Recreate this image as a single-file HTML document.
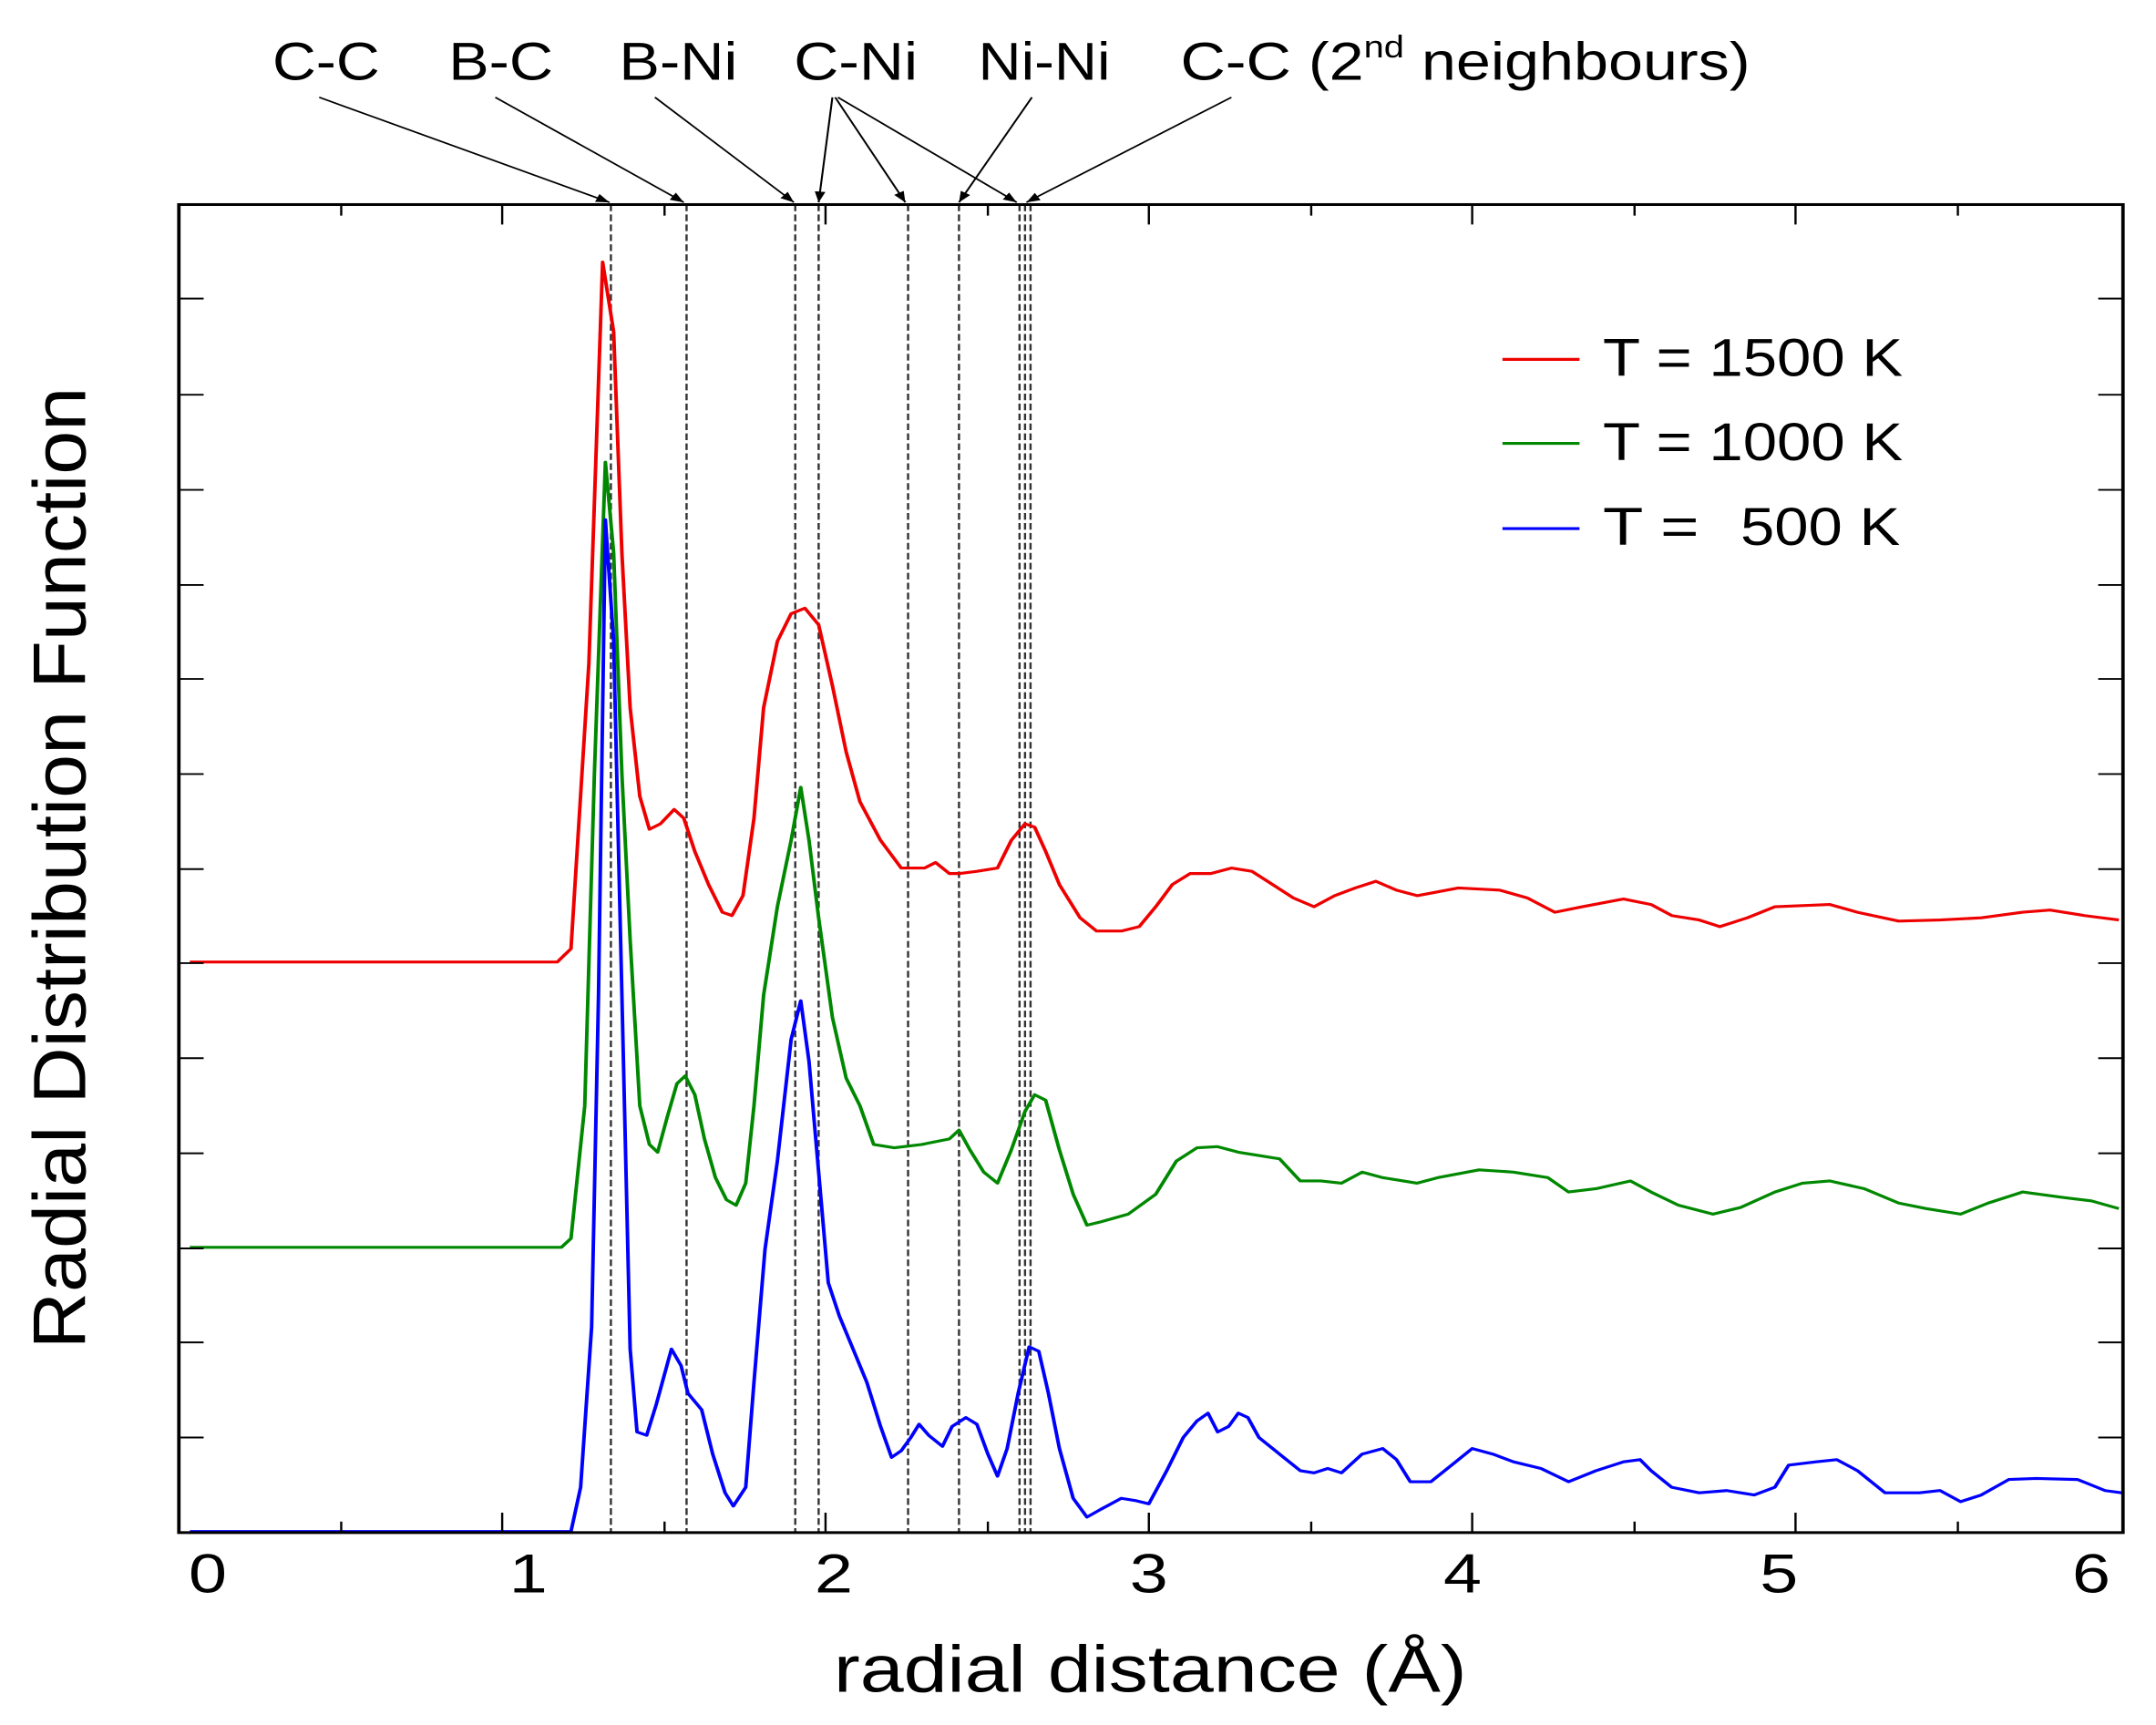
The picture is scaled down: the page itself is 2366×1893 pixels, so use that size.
<!DOCTYPE html>
<html><head><meta charset="utf-8"><style>html,body{margin:0;padding:0;background:#fff;overflow:hidden}svg{display:block}</style></head>
<body>
<svg width="2366" height="1893" viewBox="0 0 1567 1560" preserveAspectRatio="none" xmlns="http://www.w3.org/2000/svg" font-family="Liberation Sans, Arial, sans-serif">
<rect width="1567" height="1560" fill="#fff"/>
<defs><marker id="ar" viewBox="0 0 10 10" refX="10" refY="5" markerWidth="7" markerHeight="7" orient="auto"><path d="M0,1 L10,5 L0,9 z" fill="#000"/></marker></defs>
<g stroke="#333" stroke-width="1.6" stroke-dasharray="6,3">
<line x1="444" y1="185" x2="444" y2="1386"/><line x1="499" y1="185" x2="499" y2="1386"/>
<line x1="578" y1="185" x2="578" y2="1386"/><line x1="595" y1="185" x2="595" y2="1386"/>
<line x1="660" y1="185" x2="660" y2="1386"/><line x1="697" y1="185" x2="697" y2="1386"/>
<line x1="741" y1="185" x2="741" y2="1386"/><line x1="745" y1="185" x2="745" y2="1386"/><line x1="749" y1="185" x2="749" y2="1386"/>
</g>
<g fill="none" stroke-width="2.6" stroke-linejoin="round">
<polyline stroke="#e00" points="138,870 405,870 415,858 428,600 438,237 446,300 452,500 458,640 465,720 472,750 480,745 490,732 497,740 505,770 515,800 525,825 532,828 540,810 548,740 555,640 565,580 575,555 585,550 595,565 605,620 615,680 625,725 640,760 655,785 665,785 672,785 680,780 690,790 697,790 710,788 725,785 735,760 745,745 752,748 760,770 770,800 785,830 797,842 815,842 828,838 840,820 852,800 865,790 880,790 895,785 910,788 925,800 940,812 955,820 970,810 985,803 1000,797 1015,805 1030,810 1060,803 1090,805 1110,812 1130,825 1150,820 1180,813 1200,818 1215,828 1235,832 1250,838 1270,830 1290,820 1330,818 1350,825 1380,833 1410,832 1440,830 1470,825 1490,823 1515,828 1540,832"/>
<polyline stroke="#080" points="138,1128 408,1128 415,1120 425,1000 432,700 440,418 446,500 452,700 458,850 465,1000 472,1035 478,1042 485,1010 492,980 498,973 505,990 512,1030 520,1065 528,1085 535,1090 542,1070 548,1000 555,900 565,820 575,760 582,712 588,760 595,830 605,920 615,975 625,1000 635,1035 650,1038 670,1035 690,1030 697,1022 705,1040 715,1060 725,1070 735,1040 745,1005 752,990 760,995 770,1040 780,1080 790,1108 800,1105 820,1098 840,1080 855,1050 870,1038 885,1037 900,1042 915,1045 930,1048 945,1068 960,1068 975,1070 990,1060 1005,1065 1030,1070 1045,1065 1075,1058 1100,1060 1125,1065 1140,1078 1160,1075 1185,1068 1200,1078 1220,1090 1245,1098 1265,1092 1290,1078 1310,1070 1330,1068 1355,1075 1380,1088 1400,1093 1425,1098 1445,1088 1470,1078 1500,1083 1520,1086 1540,1093"/>
<polyline stroke="#00f" points="138,1385 415,1385 422,1345 430,1200 435,900 440,470 446,580 452,900 458,1220 463,1295 470,1298 477,1270 488,1220 495,1235 500,1260 510,1275 518,1315 527,1350 533,1362 542,1345 548,1250 556,1130 565,1050 575,940 582,905 588,960 595,1060 602,1160 610,1190 620,1220 630,1250 640,1290 648,1318 655,1312 662,1300 668,1288 675,1298 685,1308 692,1290 702,1282 710,1288 718,1315 725,1335 732,1310 740,1260 748,1218 755,1222 762,1260 770,1310 780,1355 790,1372 800,1365 815,1355 825,1357 835,1360 848,1330 860,1300 870,1285 878,1278 885,1295 893,1290 900,1278 907,1282 915,1300 930,1315 945,1330 955,1332 965,1328 975,1332 990,1315 1005,1310 1015,1320 1025,1340 1040,1340 1055,1325 1070,1310 1085,1315 1100,1322 1120,1328 1140,1340 1160,1330 1180,1322 1192,1320 1200,1330 1215,1345 1235,1350 1255,1348 1275,1352 1290,1345 1300,1325 1320,1322 1335,1320 1350,1330 1370,1350 1395,1350 1410,1348 1425,1358 1440,1352 1460,1338 1480,1337 1510,1338 1530,1348 1542,1350"/>
</g>
<rect x="130" y="185" width="1413" height="1201" fill="none" stroke="#000" stroke-width="2.5"/>
<g stroke="#000" stroke-width="1.6">
<path d="M130,1386v-18M248,1386v-10M365,1386v-18M483,1386v-10M600,1386v-18M718,1386v-10M835,1386v-18M953,1386v-10M1070,1386v-18M1188,1386v-10M1305,1386v-18M1423,1386v-10"/>
<path d="M130,185v18M248,185v10M365,185v18M483,185v10M600,185v18M718,185v10M835,185v18M953,185v10M1070,185v18M1188,185v10M1305,185v18M1423,185v10"/>
<path d="M130,270h18M130,357h18M130,443h18M130,529h18M130,614h18M130,700h18M130,786h18M130,871h18M130,957h18M130,1043h18M130,1129h18M130,1214h18M130,1300h18"/>
<path d="M1543,270h-18M1543,357h-18M1543,443h-18M1543,529h-18M1543,614h-18M1543,700h-18M1543,786h-18M1543,871h-18M1543,957h-18M1543,1043h-18M1543,1129h-18M1543,1214h-18M1543,1300h-18"/>
</g>
<g stroke="#000" stroke-width="1.4" marker-end="url(#ar)">
<line x1="232" y1="88" x2="443" y2="183"/>
<line x1="360" y1="88" x2="497" y2="183"/>
<line x1="476" y1="88" x2="577" y2="183"/>
<line x1="605" y1="88" x2="595" y2="183"/>
<line x1="607" y1="88" x2="658" y2="183"/>
<line x1="609" y1="88" x2="739" y2="183"/>
<line x1="750" y1="88" x2="697" y2="183"/>
<line x1="895" y1="88" x2="746" y2="183"/>
</g>
<g font-size="48" fill="#000">
<text x="198" y="72" textLength="78" lengthAdjust="spacingAndGlyphs">C-C</text>
<text x="326" y="72" textLength="76" lengthAdjust="spacingAndGlyphs">B-C</text>
<text x="450" y="72" textLength="86" lengthAdjust="spacingAndGlyphs">B-Ni</text>
<text x="577" y="72" textLength="90" lengthAdjust="spacingAndGlyphs">C-Ni</text>
<text x="711" y="72" textLength="96" lengthAdjust="spacingAndGlyphs">Ni-Ni</text>
<text x="858" y="72" textLength="414" lengthAdjust="spacingAndGlyphs">C-C (2<tspan font-size="28" dy="-20">nd</tspan><tspan dy="20"> neighbours)</tspan></text>
</g>
<g font-size="50" fill="#000" text-anchor="middle">
<text x="151" y="1440">0</text><text x="384" y="1440">1</text><text x="606" y="1440">2</text>
<text x="835" y="1440">3</text><text x="1063" y="1440">4</text><text x="1293" y="1440">5</text><text x="1520" y="1440">6</text>
</g>
<text x="836" y="1530" font-size="60" text-anchor="middle" textLength="460" lengthAdjust="spacingAndGlyphs">radial distance (Å)</text>
<text transform="translate(62,785) rotate(-90)" font-size="54" text-anchor="middle" textLength="870" lengthAdjust="spacingAndGlyphs">Radial Distribution Function</text>
<g stroke-width="2.6"><line x1="1092" y1="325" x2="1148" y2="325" stroke="#e00"/><line x1="1092" y1="401" x2="1148" y2="401" stroke="#080"/><line x1="1092" y1="478" x2="1148" y2="478" stroke="#00f"/></g>
<g font-size="48" fill="#000">
<text x="1165" y="340" textLength="218" lengthAdjust="spacingAndGlyphs">T = 1500 K</text>
<text x="1165" y="416" textLength="218" lengthAdjust="spacingAndGlyphs">T = 1000 K</text>
<text x="1165" y="493">T =</text><text x="1265" y="493" textLength="116" lengthAdjust="spacingAndGlyphs">500 K</text>
</g>
</svg>
</body></html>
